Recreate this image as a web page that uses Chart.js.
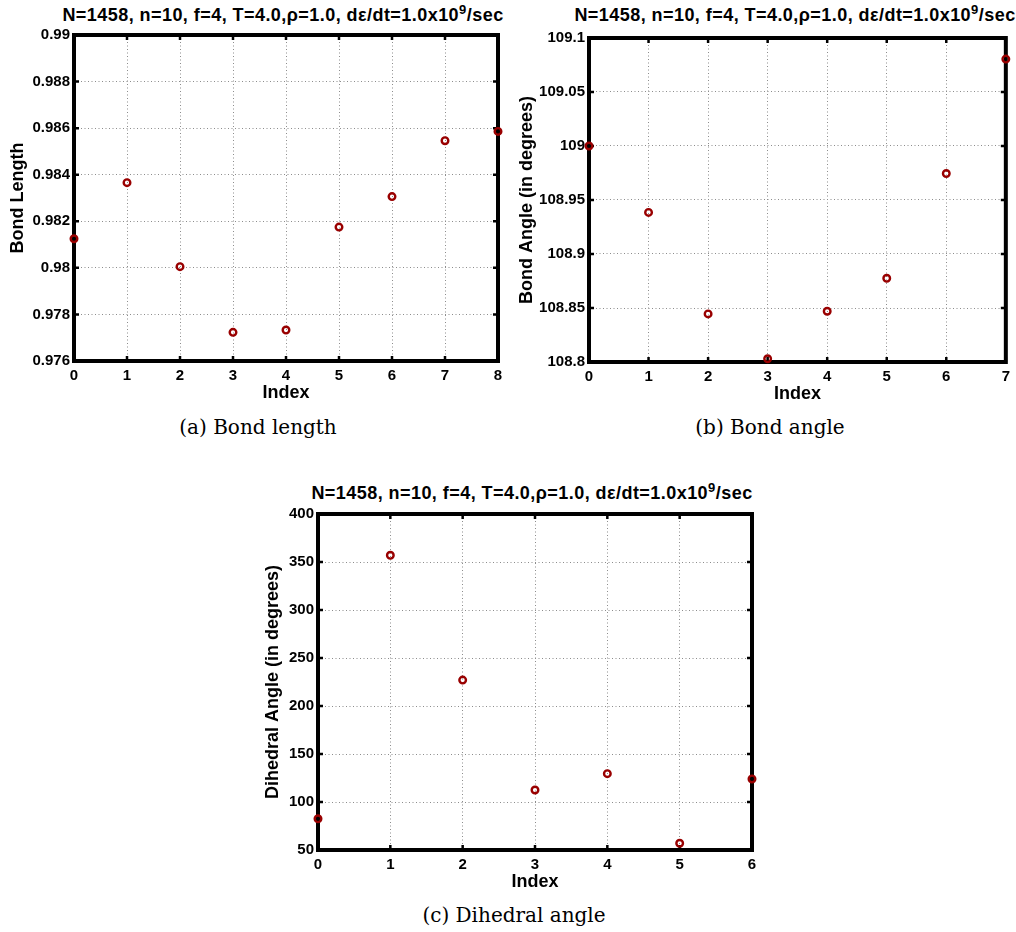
<!DOCTYPE html>
<html>
<head>
<meta charset="utf-8">
<script src="https://cdn.jsdelivr.net/npm/chart.js@4"></script>
<style>
  body { margin: 0; background: #fff; }
  #page { position: relative; width: 1016px; height: 932px; overflow: hidden; font-family: "Liberation Sans", Arial, sans-serif; }
  .title { position: absolute; transform: translateX(-50%); white-space: nowrap; font-weight: bold; font-size: 18px; letter-spacing: 0.45px; line-height: 20px; color: #000; }
  .title .sup { font-size: 13px; position: relative; top: -7px; }
  .caption { position: absolute; transform: translateX(-50%); white-space: nowrap; font-family: "DejaVu Serif", serif; font-size: 20px; line-height: 24px; color: #000; }
  canvas { position: absolute; }
</style>
</head>
<body>
<div id="page">
  <div class="title" style="left:283px; top:5px">N=1458, n=10, f=4, T=4.0,ρ=1.0, dε/dt=1.0x10<span class="sup">9</span>/sec</div>
  <div class="title" style="left:795px; top:5px">N=1458, n=10, f=4, T=4.0,ρ=1.0, dε/dt=1.0x10<span class="sup">9</span>/sec</div>
  <div class="title" style="left:532px; top:483px">N=1458, n=10, f=4, T=4.0,ρ=1.0, dε/dt=1.0x10<span class="sup">9</span>/sec</div>

  <canvas id="lengthChart" width="510" height="406" style="left:0; top:0"></canvas>
  <canvas id="angleChart" width="506" height="407" style="left:510px; top:0"></canvas>
  <canvas id="dihedralChart" width="520" height="425" style="left:250px; top:470px"></canvas>

  <div class="caption" style="left:258px; top:415px">(a) Bond length</div>
  <div class="caption" style="left:770px; top:415px">(b) Bond angle</div>
  <div class="caption" style="left:514px; top:903px">(c) Dihedral angle</div>
</div>

<script>
// Values
const lengthIndex = [0, 1, 2, 3, 4, 5, 6, 7, 8];
const bondLength = [0.98125, 0.98366, 0.98005, 0.97723, 0.97733, 0.98175, 0.98306, 0.98546, 0.98586];
const lengthTicks = [0.976, 0.978, 0.98, 0.982, 0.984, 0.986, 0.988, 0.99];

const angleIndex = [0, 1, 2, 3, 4, 5, 6, 7];
const bondAngle = [109.0, 108.9385, 108.8445, 108.803, 108.847, 108.8775, 108.9745, 109.0805];
const angleTicks = [108.8, 108.85, 108.9, 108.95, 109, 109.05, 109.1];

const dihedralIndex = [0, 1, 2, 3, 4, 5, 6];
const dihedralAngle = [82.5, 357, 227, 112.5, 129.5, 57, 124];
const dihedralTicks = [50, 100, 150, 200, 250, 300, 350, 400];

const markerColor = '#990000';
const gridColor = '#8c8c8c';

// thick MATLAB style box with inner tick marks, drawn under the markers
const boxPlugin = {
    id: 'box',
    beforeDatasetsDraw(chart) {
        const ctx = chart.ctx;
        const a = chart.chartArea;
        const x = chart.scales.x;
        const y = chart.scales.y;
        ctx.save();
        ctx.strokeStyle = '#000';
        ctx.lineWidth = 2.5;
        ctx.beginPath();
        x.ticks.forEach(t => {
            const px = x.getPixelForValue(t.value);
            ctx.moveTo(px, a.bottom);
            ctx.lineTo(px, a.bottom - 5);
            ctx.moveTo(px, a.top);
            ctx.lineTo(px, a.top + 5);
        });
        y.ticks.forEach(t => {
            const py = y.getPixelForValue(t.value);
            ctx.moveTo(a.left, py);
            ctx.lineTo(a.left + 5, py);
            ctx.moveTo(a.right, py);
            ctx.lineTo(a.right - 5, py);
        });
        ctx.stroke();
        ctx.lineWidth = 4;
        ctx.strokeRect(a.left, a.top, a.right - a.left, a.bottom - a.top);
        ctx.restore();
    }
};

function makeChart(id, xs, ys, yTicks, yLabel, opts) {
    const points = xs.map((v, i) => ({ x: v, y: ys[i] }));
    return new Chart(document.getElementById(id), {
        type: 'scatter',
        data: {
            datasets: [{
                data: points,
                showLine: false,
                pointRadius: 3.3,
                pointBorderWidth: 2.4,
                pointBorderColor: markerColor,
                pointBackgroundColor: 'rgba(0,0,0,0)',
                clip: false
            }]
        },
        options: {
            responsive: false,
            animation: false,
            layout: { padding: { top: opts.padTop, right: opts.padRight, left: 0, bottom: 0 } },
            plugins: {
                legend: { display: false },
                tooltip: { enabled: false }
            },
            scales: {
                x: {
                    type: 'linear',
                    min: xs[0],
                    max: xs[xs.length - 1],
                    afterBuildTicks: scale => { scale.ticks = xs.map(v => ({ value: v })); },
                    afterFit: scale => { scale.height = 45; },
                    grid: { color: gridColor, lineWidth: 1, drawTicks: false },
                    border: { display: false, dash: [1, 2.5] },
                    ticks: {
                        color: '#000',
                        padding: 6,
                        maxRotation: 0,
                        autoSkip: false,
                        font: { family: 'Liberation Sans', size: 15, weight: 'bold' }
                    },
                    title: {
                        display: true,
                        text: 'Index',
                        color: '#000',
                        padding: { top: 0, bottom: 2 },
                        font: { family: 'Liberation Sans', size: 18, weight: 'bold' }
                    }
                },
                y: {
                    type: 'linear',
                    min: yTicks[0],
                    max: yTicks[yTicks.length - 1],
                    afterBuildTicks: scale => { scale.ticks = yTicks.map(v => ({ value: v })); },
                    afterFit: scale => { scale.width = opts.yWidth; },
                    grid: { color: gridColor, lineWidth: 1, drawTicks: false },
                    border: { display: false, dash: [1, 2.5] },
                    ticks: {
                        color: '#000',
                        padding: 4,
                        autoSkip: false,
                        callback: v => String(+v.toFixed(4)),
                        font: { family: 'Liberation Sans', size: 15, weight: 'bold' }
                    },
                    title: {
                        display: true,
                        text: yLabel,
                        color: '#000',
                        padding: { top: opts.titlePad, bottom: 0 },
                        font: { family: 'Liberation Sans', size: 18, weight: 'bold' }
                    }
                }
            }
        },
        plugins: [boxPlugin]
    });
}

makeChart('lengthChart', lengthIndex, bondLength, lengthTicks, 'Bond Length',
    { padTop: 35, padRight: 12, yWidth: 74, titlePad: 7 });
makeChart('angleChart', angleIndex, bondAngle, angleTicks, 'Bond Angle (in degrees)',
    { padTop: 38, padRight: 10, yWidth: 79, titlePad: 6 });
makeChart('dihedralChart', dihedralIndex, dihedralAngle, dihedralTicks, 'Dihedral Angle (in degrees)',
    { padTop: 44, padRight: 18, yWidth: 68, titlePad: 12 });
</script>
</body>
</html>
